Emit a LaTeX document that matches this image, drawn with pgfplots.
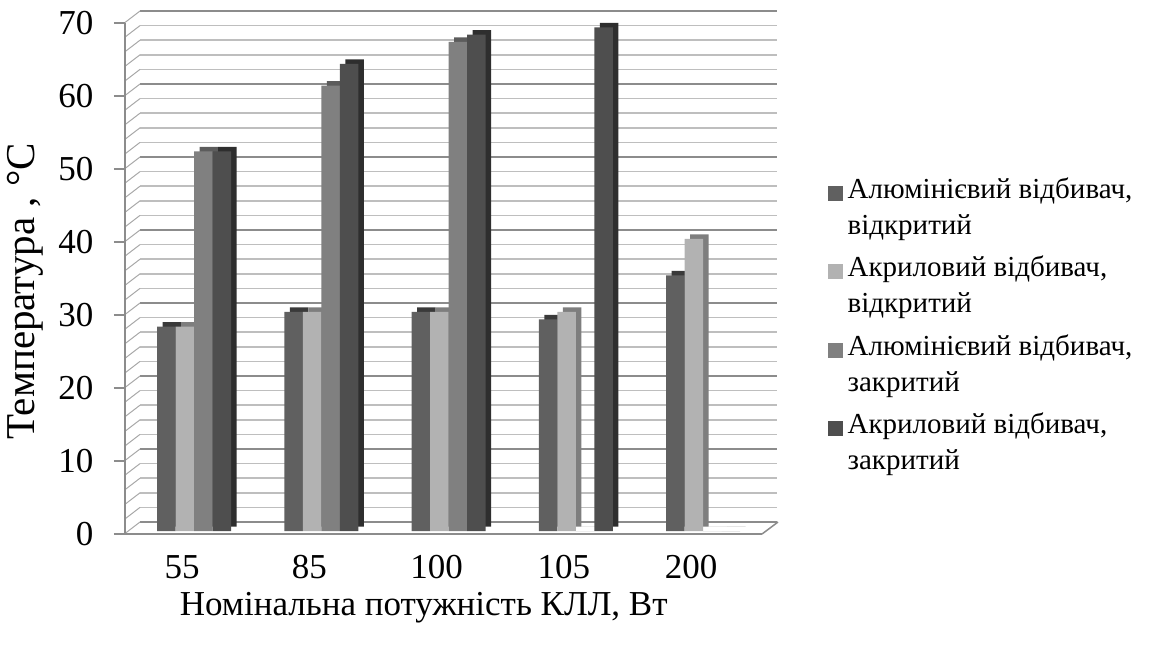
\documentclass[border=0pt]{standalone}
\usepackage{fontspec}
\setmainfont{Liberation Serif}
\usepackage{pgfplots}
\pgfplotsset{compat=1.18}
\definecolor{sA}{HTML}{606060}\definecolor{sAd}{HTML}{3A3A3A}
\definecolor{sB}{HTML}{B2B2B2}\definecolor{sBd}{HTML}{7E7E7E}
\definecolor{sC}{HTML}{808080}\definecolor{sCd}{HTML}{5C5C5C}
\definecolor{sD}{HTML}{4E4E4E}\definecolor{sDd}{HTML}{2E2E2E}
\definecolor{gmaj}{HTML}{8C8C8C}\definecolor{gmin}{HTML}{BEBEBE}
\definecolor{wallc}{HTML}{A8A8A8}
\pgfplotstableread{
x a b c d
0 28 28 52 52
1 30 30 61 64
2 30 30 67 68
3 29 30 0 69
4 35 40 0 0
}\datatable
\begin{document}
\begin{tikzpicture}
\path[use as bounding box] (0,0) rectangle (1150pt,648pt);
% back wall with gridlines
\begin{axis}[name=back, at={(140pt,126pt)}, anchor=south west, scale only axis,
  width=637pt, height=511pt, xmin=0, xmax=1, ymin=0, ymax=70,
  xtick=\empty, ytick={0,10,...,70}, minor ytick={2,4,...,68},
  yticklabels={}, grid=both, axis line style={draw=none}, tick style={draw=none},
  major grid style={gmaj, line width=1.6pt},
  minor grid style={gmin, line width=1.6pt}, clip=false]
\pgfplotsinvokeforeach{0,2,...,70}{
  \draw[wallc, line width=1pt] (axis cs:0,#1) -- ++(-15pt,-11.5pt);
}
\end{axis}
% front axis with bars
\begin{axis}[at={(125pt,114pt)}, anchor=south west, scale only axis,
  width=637pt, height=511pt, xmin=-0.448, xmax=4.558, ymin=0, ymax=70,
  axis x line*=bottom, axis y line*=left,
  axis line style={gmaj, line width=1.5pt},
  ytick={0,10,...,70}, xtick=data, xticklabels={55,85,100,105,200},
  x tick style={draw=none}, y tick style={gmaj, line width=1.5pt},
  tick align=outside, major tick length=11pt,
  /pgf/number format/assume math mode=true,
  tick label style={font=\fontsize{35}{40}\selectfont},
  yticklabel style={xshift=-17pt},
  xticklabel style={yshift=-7pt},
  xlabel={Номінальна потужність КЛЛ, Вт},
  ylabel={Температура , °C},
  every axis x label/.style={at={(axis description cs:0.469,-0.145)}, anchor=center,
    font=\fontsize{35}{40}\selectfont},
  every axis y label/.style={at={(axis description cs:-0.156,0.475)}, anchor=center, rotate=90,
    font=\fontsize{41}{46}\selectfont},
  ybar, bar width=18.5pt, clip=false,
  legend style={at={(axis description cs:1.098,0.705)}, anchor=north west, draw=none,
    fill=none, font=\fontsize{29}{36}\selectfont,
    nodes={align=left, inner xsep=5pt, inner ysep=2pt}, row sep=16pt},
  legend cell align=left,
  legend image code/.code={\fill[#1] (0pt,3pt) rectangle (15pt,18pt);},
  ]
\draw[gmaj, line width=1.5pt] (rel axis cs:1,0) -- ++(16pt,12pt);
% shadows (3D sides)
\addplot[forget plot, fill=sAd, draw=none, bar shift=-15.75pt, xshift=5.5pt, yshift=7.5pt] table[x=x,y=a]{\datatable};
\addplot[forget plot, fill=sBd, draw=none, bar shift=2.75pt, xshift=5.5pt, yshift=7.5pt] table[x=x,y=b]{\datatable};
\addplot[forget plot, fill=sCd, draw=none, bar shift=21.25pt, xshift=5.5pt, yshift=7.5pt] table[x=x,y=c]{\datatable};
\addplot[forget plot, fill=sDd, draw=none, bar shift=39.75pt, xshift=5.5pt, yshift=7.5pt] table[x=x,y=d]{\datatable};
% faces
\addplot[fill=sA, draw=none, bar shift=-15.75pt, yshift=3pt] table[x=x,y=a]{\datatable};
\addlegendentry{Алюмінієвий відбивач,\\відкритий}
\addplot[fill=sB, draw=none, bar shift=2.75pt, yshift=3pt] table[x=x,y=b]{\datatable};
\addlegendentry{Акриловий відбивач,\\відкритий}
\addplot[fill=sC, draw=none, bar shift=21.25pt, yshift=3pt] table[x=x,y=c]{\datatable};
\addlegendentry{Алюмінієвий відбивач,\\закритий}
\addplot[fill=sD, draw=none, bar shift=39.75pt, yshift=3pt] table[x=x,y=d]{\datatable};
\addlegendentry{Акриловий відбивач,\\закритий}
\end{axis}
\end{tikzpicture}
\end{document}
